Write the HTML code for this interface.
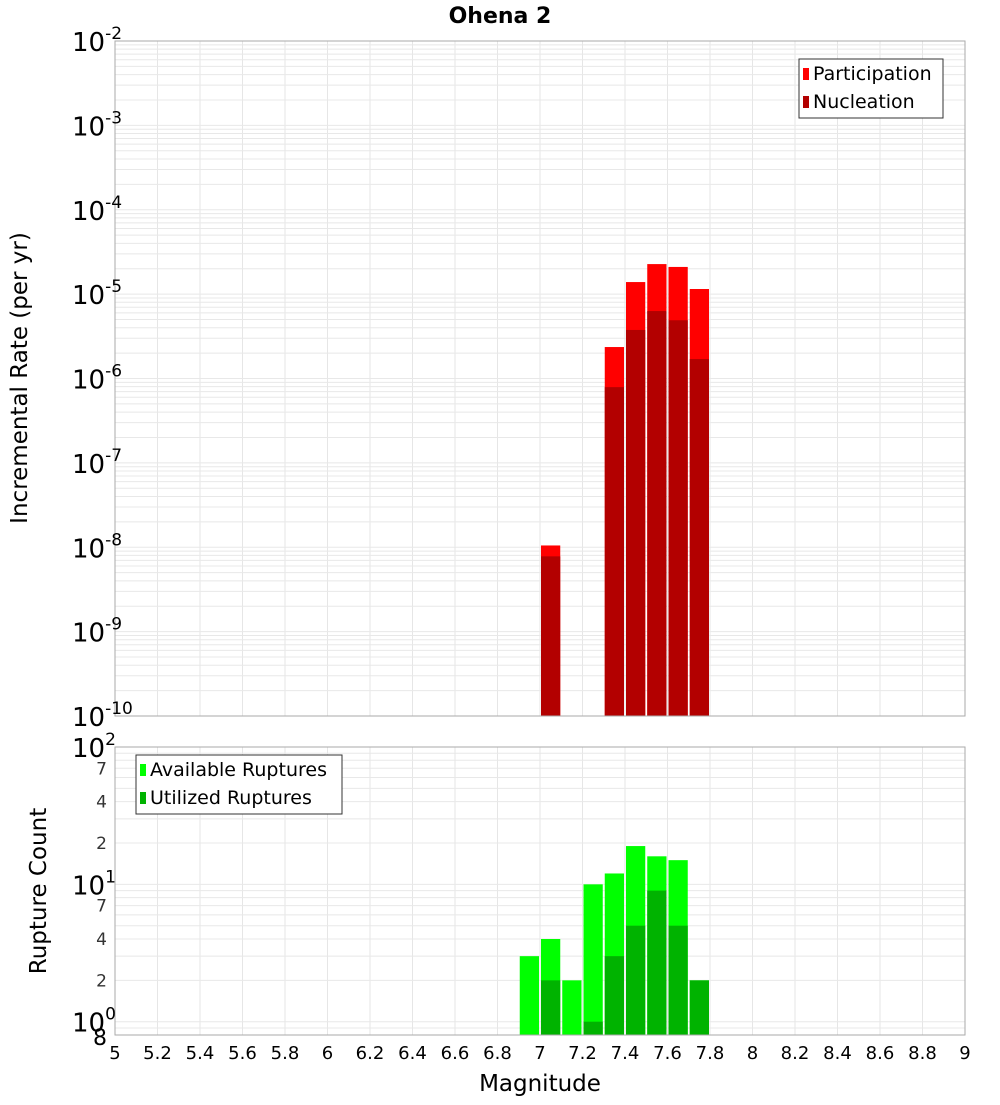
<!DOCTYPE html>
<html><head><meta charset="utf-8"><style>
body{margin:0;background:#fff;font-family:"Liberation Sans","DejaVu Sans",sans-serif;}
svg text{font-family:"DejaVu Sans","Liberation Sans",sans-serif;}
</style></head><body>
<svg id="c" width="1000" height="1100" xmlns="http://www.w3.org/2000/svg">
<text x="500" y="23" text-anchor="middle" font-size="22" font-weight="bold">Ohena 2</text>
<text transform="translate(27,378) rotate(-90)" text-anchor="middle" font-size="23">Incremental Rate (per yr)</text>
<text transform="translate(46,891) rotate(-90)" text-anchor="middle" font-size="23">Rupture Count</text>
<text x="540" y="1091" text-anchor="middle" font-size="23">Magnitude</text>
<g id="top"></g><g id="bot"></g>
</svg>
<script>
const binStarts=[7.0,7.3,7.4,7.5,7.6,7.7];
const participation=[1.05e-8,2.36e-6,1.39e-5,2.27e-5,2.1e-5,1.15e-5];
const nucleation=[7.8e-9,7.9e-7,3.76e-6,6.3e-6,4.9e-6,1.7e-6];
const countBins=[6.9,7.0,7.1,7.2,7.3,7.4,7.5,7.6,7.7];
const available=[3,4,2,10,12,19,16,15,2];
const utilized=[0,2,0,1,3,5,9,5,2];
const xTicks=[5,5.2,5.4,5.6,5.8,6,6.2,6.4,6.6,6.8,7,7.2,7.4,7.6,7.8,8,8.2,8.4,8.6,8.8,9];
const topDecades=[-2,-3,-4,-5,-6,-7,-8,-9,-10];
const botMinorLabels=[2,4,7];

const NS="http://www.w3.org/2000/svg";
const svg=document.getElementById('c');
function mk(tag,attrs,parent,txt){const e=document.createElementNS(NS,tag);for(const k in attrs)e.setAttribute(k,attrs[k]);if(txt!==undefined)e.textContent=txt;(parent||svg).appendChild(e);return e;}
const X0=115,X1=965;
const xs=m=>X0+(m-5)/4*(X1-X0);
const T0=41,T1=716;
const ty=v=>T0+(-2-Math.log10(v))/8*(T1-T0);
const B0=747,B1=1035,bmin=0.8,bmax=100;
const by=v=>B0+(Math.log10(bmax)-Math.log10(v))/(Math.log10(bmax)-Math.log10(bmin))*(B1-B0);

const gT=document.getElementById('top'), gB=document.getElementById('bot');
function vgrid(g,y0,y1){xTicks.forEach(t=>{const l=mk('line',{x1:xs(t),x2:xs(t),y1:y0,y2:y1,stroke:'#e6e6e6'},g);

});}
vgrid(gT,T0,T1);vgrid(gB,B0,B1);
for(let d=-10;d<-2;d++)for(let k=1;k<10;k++){const v=k*Math.pow(10,d);const l=mk('line',{x1:X0,x2:X1,y1:ty(v),y2:ty(v),stroke:'#e8e8e8'},gT);

}
[0.8,0.9,1,2,3,4,5,6,7,8,9,10,20,30,40,50,60,70,80,90,100].forEach(v=>{const l=mk('line',{x1:X0,x2:X1,y1:by(v),y2:by(v),stroke:'#e8e8e8'},gB);

});
function bar(g,x0,y,yb,fill,name){const r=mk('rect',{x:xs(x0)+1,y:y,width:xs(x0+0.1)-xs(x0)-2,height:Math.max(0,yb-y),fill:fill},g);

}
binStarts.forEach((m,i)=>{bar(gT,m,ty(participation[i]),T1,'#ff0000','participation-bar');});
binStarts.forEach((m,i)=>{bar(gT,m,ty(nucleation[i]),T1,'#b30000','nucleation-bar');});
countBins.forEach((m,i)=>{bar(gB,m,by(available[i]),B1,'#00ff00','available-bar');});
countBins.forEach((m,i)=>{if(utilized[i]>0)bar(gB,m,by(utilized[i]),B1,'#00b300','utilized-bar');});
mk('rect',{x:X0,y:T0,width:X1-X0,height:T1-T0,fill:'none',stroke:'#aaa'},gT);
mk('rect',{x:X0,y:B0,width:X1-X0,height:B1-B0,fill:'none',stroke:'#aaa'},gB);
topDecades.forEach(d=>{const y=ty(Math.pow(10,d));const t=mk('text',{x:72,y:y+10,'font-size':26},gT);


t.textContent='10';mk('tspan',{dy:-12,'font-size':17},t,String(d));});
[[2,100],[1,10],[0,1]].forEach(([e,v])=>{const t=mk('text',{x:72,y:by(v)+10,'font-size':26},gB);


t.textContent='10';mk('tspan',{dy:-12,'font-size':17},t,String(e));});
[1,10].forEach(dec=>botMinorLabels.forEach(k=>{const t=mk('text',{x:107,y:by(k*dec)+6,'font-size':17,'text-anchor':'end',fill:'#333'},gB,String(k));

}));
{const t=mk('text',{x:107,y:by(0.8)+10,'font-size':22,'text-anchor':'end'},gB,'8');

}
xTicks.forEach(t=>{const e=mk('text',{x:xs(t),y:1059,'font-size':18,'text-anchor':'middle'},gB,String(t));

});
function legend(g,x,y,w,items,name){const grp=mk('g',{},g);


mk('rect',{x:x,y:y,width:w,height:items.length*28+3,fill:'#fff',stroke:'#333'},grp);
items.forEach(([c,l],i)=>{mk('rect',{x:x+4,y:y+9+i*28,width:6,height:12,fill:c},grp);mk('text',{x:x+14,y:y+21+i*28,'font-size':19},grp,l);});}
legend(gT,799,59,144,[['#ff0000','Participation'],['#b30000','Nucleation']],'top-legend');
legend(gB,136,755,206,[['#00ff00','Available Ruptures'],['#00b300','Utilized Ruptures']],'bottom-legend');
</script>
</body></html>
